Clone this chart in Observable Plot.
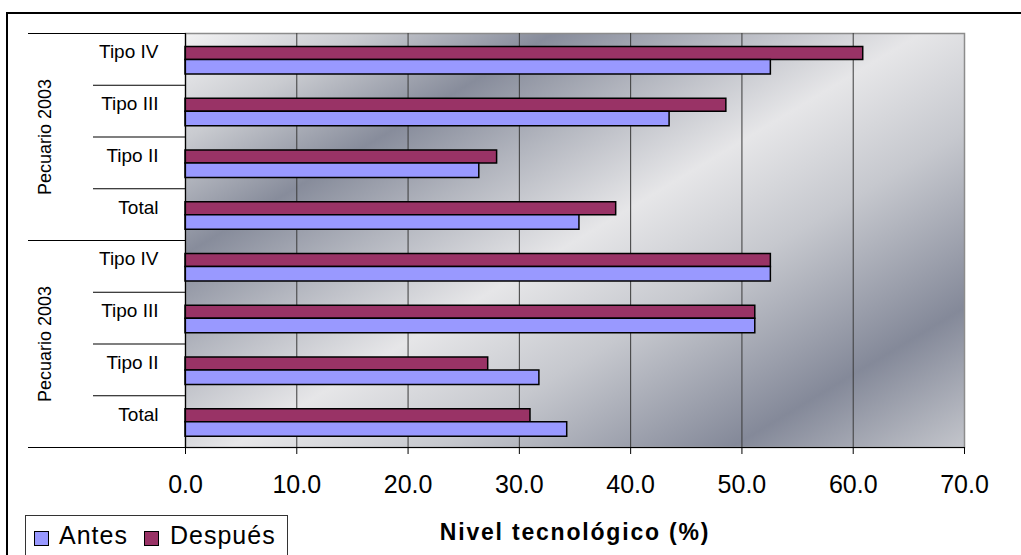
<!DOCTYPE html>
<html>
<head>
<meta charset="utf-8">
<script src="https://cdn.jsdelivr.net/npm/d3@7"></script>
<script src="https://cdn.jsdelivr.net/npm/@observablehq/plot@0.6"></script>
<style>
  body { margin: 0; background: #fff; }
  #wrap { position: relative; width: 1021px; height: 555px; overflow: hidden; background: #fff; }
  #border { position: absolute; left: 6px; top: 12px; width: 1100px; height: 700px;
            border-left: 2px solid #000; border-top: 2px solid #000; }
  #chart { position: absolute; left: 0; top: 0; }
  #legend { position: absolute; left: 0; top: 0; pointer-events: none; }
</style>
</head>
<body>
<div id="wrap">
  <div id="border"></div>
  <div id="chart"></div>
  <svg id="legend" width="1021" height="555"></svg>
</div>
<script>
// ---- data ----
const groups = ["Pecuario 2003", "Pecuario 2003"];
const categories = ["Tipo IV", "Tipo III", "Tipo II", "Total"];
const antesG1 = [52.6, 43.5, 26.4, 35.4];
const despuesG1 = [60.9, 48.6, 28.0, 38.7];
const antesG2 = [52.6, 51.2, 31.8, 34.3];
const despuesG2 = [52.6, 51.2, 27.2, 31.0];
const xTicks = [0, 10, 20, 30, 40, 50, 60, 70];
const series = ["Antes", "Después"];
const seriesColors = ["#9999FF", "#993366"];
const xTitle = "Nivel tecnológico (%)";

// ---- table ----
const antes = [antesG1, antesG2];
const despues = [despuesG1, despuesG2];
const ids = [];
const rows = [];
groups.forEach((g, gi) => {
  categories.forEach((c, ci) => {
    const id = gi + "|" + c;
    ids.push(id);
    rows.push({id, serie: "Después", value: despues[gi][ci]});
    rows.push({id, serie: "Antes", value: antes[gi][ci]});
  });
});
const rowsD = rows.filter(d => d.serie === "Después");
const rowsA = rows.filter(d => d.serie === "Antes");

const W = 1021, H = 555;
const mL = 185, mR = 57, mT = 33, mB = 108;
const bw = (H - mT - mB) / ids.length;
const plotW = W - mL - mR;

const innerSeps = ids.filter((id, i) => i % categories.length !== 0);
const groupStarts = ids.filter((id, i) => i % categories.length === 0);
const groupMids = groups.map((g, gi) => ({id: ids[gi * categories.length + categories.length / 2], label: g}));
const lastId = ids[ids.length - 1];

const font = "'Liberation Sans', Arial, sans-serif";

const svg = Plot.plot({
  width: W,
  height: H,
  marginLeft: mL,
  marginRight: mR,
  marginTop: mT,
  marginBottom: mB,
  style: {fontFamily: font, background: "transparent", color: "#000", overflow: "visible"},
  x: {domain: [xTicks[0], xTicks[xTicks.length - 1]], label: null},
  y: {type: "band", domain: ids, padding: 0, round: false, label: null},
  marks: [
    Plot.frame({fill: "url(#bgGrad)", stroke: "#8c8c8c", strokeWidth: 1.5}),
    Plot.ruleX(xTicks.slice(1, -1), {stroke: "#3a3a3a", strokeWidth: 1}),
    Plot.barX(rowsD, {x: "value", y: "id", fill: seriesColors[1], stroke: "#000", strokeWidth: 1.5,
      insetTop: 13.5, insetBottom: bw - 26.5}),
    Plot.barX(rowsA, {x: "value", y: "id", fill: seriesColors[0], stroke: "#000", strokeWidth: 1.5,
      insetTop: 26.5, insetBottom: bw - 41}),
    Plot.ruleX([xTicks[0]], {stroke: "#000", strokeWidth: 1.2}),
    // category separators (left of axis)
    Plot.ruleY(innerSeps, {y: d => d, dy: -bw / 2, insetLeft: -92, insetRight: plotW, stroke: "#000", strokeWidth: 1.2}),
    Plot.ruleY(groupStarts, {y: d => d, dy: -bw / 2, insetLeft: -157, insetRight: plotW, stroke: "#000", strokeWidth: 1.2}),
    Plot.ruleY([lastId], {y: d => d, dy: bw / 2, insetLeft: -157, stroke: "#000", strokeWidth: 1.2}),
    Plot.axisX({ticks: xTicks, tickFormat: d3.format(".1f"), tickSize: 7, tickPadding: 21, fontSize: 25, label: null}),
    Plot.axisY({tickFormat: id => id.split("|")[1], tickSize: 0, tickPadding: 27, fontSize: 19, dy: -7, label: null}),
    Plot.text(groupMids, {y: "id", text: "label", dy: -bw / 2, frameAnchor: "left", dx: -140,
      rotate: -90, fontSize: 18, textAnchor: "middle"}),
    Plot.text([xTitle], {text: d => d, frameAnchor: "bottom", lineAnchor: "bottom", dy: 92,
      fontSize: 23, fontWeight: "bold", textAnchor: "middle"})
  ]
});

// background gradient
const defs = d3.select(svg).insert("defs", ":first-child");
const grad = defs.append("linearGradient")
  .attr("id", "bgGrad")
  .attr("gradientUnits", "userSpaceOnUse")
  .attr("x1", 185).attr("y1", 33).attr("x2", 574).attr("y2", 682);
[[0, "#f2f2f3"], [0.12, "#c9cbd0"], [0.25, "#878c9b"], [0.36, "#b2b5be"], [0.5, "#e6e6e8"],
 [0.64, "#c6c8ce"], [0.84, "#848999"], [1, "#c4c6cc"]].forEach(([o, c]) => {
  grad.append("stop").attr("offset", o).attr("stop-color", c);
});

d3.select(svg).selectAll("text").filter(function() { return this.textContent === xTitle; })
  .attr("letter-spacing", "1.8px");

document.getElementById("chart").appendChild(svg);

// legend
const lg = d3.select("#legend");
lg.append("rect").attr("x", 25.5).attr("y", 515.5).attr("width", 262).attr("height", 60)
  .attr("fill", "#fff").attr("stroke", "#333").attr("stroke-width", 1);
const legX = [[34.5, 59], [144.5, 170]];
series.forEach((s, i) => {
  lg.append("rect").attr("x", legX[i][0]).attr("y", 531.5).attr("width", 14).attr("height", 14)
    .attr("fill", seriesColors[i]).attr("stroke", "#000").attr("stroke-width", 1);
  lg.append("text").attr("x", legX[i][1]).attr("y", 544).text(s)
    .attr("font-family", font).attr("font-size", 25).attr("letter-spacing", "1px").attr("fill", "#000");
});
</script>
</body>
</html>
